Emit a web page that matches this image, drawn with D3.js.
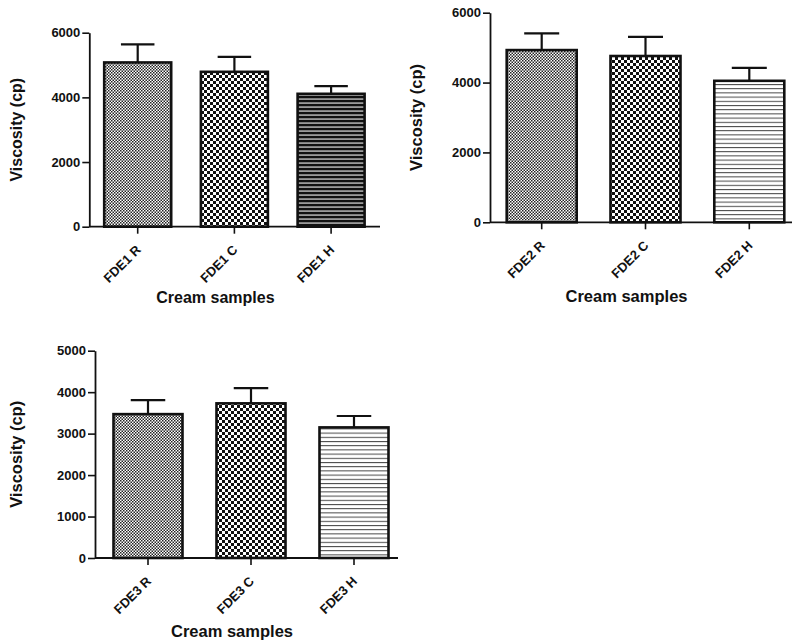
<!DOCTYPE html>
<html>
<head>
<script src="https://d3js.org/d3.v7.min.js"></script>
<style>
  body { margin: 0; background: #fff; }
  text { font-family: "Liberation Sans", Arial, sans-serif; font-weight: bold; fill: #111; }
</style>
</head>
<body>
<svg id="fig" width="793" height="642"></svg>
<script>
// data
const samplesFDE1 = ["FDE1 R", "FDE1 C", "FDE1 H"];
const viscosityFDE1 = [5080, 4790, 4110];
const errorFDE1 = [560, 465, 240];

const samplesFDE2 = ["FDE2 R", "FDE2 C", "FDE2 H"];
const viscosityFDE2 = [4930, 4760, 4050];
const errorFDE2 = [480, 550, 370];

const samplesFDE3 = ["FDE3 R", "FDE3 C", "FDE3 H"];
const viscosityFDE3 = [3470, 3730, 3150];
const errorFDE3 = [340, 365, 275];

const ticksFDE12 = [0, 2000, 4000, 6000];
const ticksFDE3 = [0, 1000, 2000, 3000, 4000, 5000];

const yTitle = "Viscosity (cp)";
const xTitle = "Cream samples";

let svg = d3.select("#fig");
let defs = svg.append("defs");

// fill patterns
let p = defs.append("pattern").attr("id", "fine").attr("patternUnits", "userSpaceOnUse")
  .attr("width", 3).attr("height", 3);
p.append("rect").attr("width", 3).attr("height", 3).attr("fill", "#fff");
p.append("rect").attr("width", 1.5).attr("height", 1.5).attr("fill", "#222");
p.append("rect").attr("x", 1.5).attr("y", 1.5).attr("width", 1.5).attr("height", 1.5).attr("fill", "#222");

p = defs.append("pattern").attr("id", "check").attr("patternUnits", "userSpaceOnUse")
  .attr("width", 6).attr("height", 6);
p.append("rect").attr("width", 6).attr("height", 6).attr("fill", "#fff");
p.append("rect").attr("width", 3).attr("height", 3).attr("fill", "#111");
p.append("rect").attr("x", 3).attr("y", 3).attr("width", 3).attr("height", 3).attr("fill", "#111");

p = defs.append("pattern").attr("id", "stripeDark").attr("patternUnits", "userSpaceOnUse")
  .attr("width", 8).attr("height", 4);
p.append("rect").attr("width", 8).attr("height", 4).attr("fill", "#9a9a9a");
p.append("rect").attr("width", 8).attr("height", 2.2).attr("fill", "#111");

p = defs.append("pattern").attr("id", "stripeLight").attr("patternUnits", "userSpaceOnUse")
  .attr("width", 8).attr("height", 4.2);
p.append("rect").attr("width", 8).attr("height", 4.2).attr("fill", "#fff");
p.append("rect").attr("width", 8).attr("height", 1).attr("fill", "#444");

const panels = [
  {names: samplesFDE1, values: viscosityFDE1, errs: errorFDE1, ticks: ticksFDE12, yMax: 6000,
   axisX: 89.3, axisEnd: 380, top: 32.7, bottom: 226.7, first: 137.7, step: 96.7, bw: 67,
   fills: ["fine", "check", "stripeDark"], yTitleX: 22, xTitleY: 302.5, fs: 16},
  {names: samplesFDE2, values: viscosityFDE2, errs: errorFDE2, ticks: ticksFDE12, yMax: 6000,
   axisX: 490, axisEnd: 792, top: 12.7, bottom: 222.3, first: 541.7, step: 103.8, bw: 70,
   fills: ["fine", "check", "stripeLight"], yTitleX: 422, xTitleY: 301.7, fs: 16.5},
  {names: samplesFDE3, values: viscosityFDE3, errs: errorFDE3, ticks: ticksFDE3, yMax: 5000,
   axisX: 95, axisEnd: 398, top: 350.7, bottom: 558, first: 148, step: 103, bw: 69,
   fills: ["fine", "check", "stripeLight"], yTitleX: 22, xTitleY: 637.3, fs: 16.5}
];

panels.forEach(cfg => {
  let g = svg.append("g");
  let n = cfg.names.length;
  let pad = 1 - cfg.bw / cfg.step;

  let x = d3.scaleBand().domain(cfg.names)
    .range([cfg.first - cfg.step / 2, cfg.first + cfg.step * (n - 0.5)])
    .paddingInner(pad).paddingOuter(pad / 2);
  let y = d3.scaleLinear().domain([0, cfg.yMax]).range([cfg.bottom, cfg.top]);

  // bars
  g.selectAll("rect.bar").data(cfg.values)
    .join("rect")
    .attr("class", "bar")
    .attr("x", (d, i) => x(cfg.names[i]))
    .attr("y", d => y(d))
    .attr("width", x.bandwidth())
    .attr("height", d => y(0) - y(d))
    .attr("fill", (d, i) => "url(#" + cfg.fills[i] + ")")
    .attr("stroke", "#111")
    .attr("stroke-width", 2.6);

  // error bars (upper only)
  let eb = g.selectAll("g.err").data(cfg.values).join("g").attr("class", "err");
  eb.append("line")
    .attr("x1", (d, i) => x(cfg.names[i]) + x.bandwidth() / 2)
    .attr("x2", (d, i) => x(cfg.names[i]) + x.bandwidth() / 2)
    .attr("y1", d => y(d))
    .attr("y2", (d, i) => y(d + cfg.errs[i]))
    .attr("stroke", "#111").attr("stroke-width", 2.2);
  eb.append("line")
    .attr("x1", (d, i) => x(cfg.names[i]) + x.bandwidth() / 4)
    .attr("x2", (d, i) => x(cfg.names[i]) + x.bandwidth() * 3 / 4)
    .attr("y1", (d, i) => y(d + cfg.errs[i]))
    .attr("y2", (d, i) => y(d + cfg.errs[i]))
    .attr("stroke", "#111").attr("stroke-width", 2.2);

  // y axis
  let ya = g.append("g").attr("transform", "translate(" + cfg.axisX + ",0)")
    .call(d3.axisLeft(y).tickValues(cfg.ticks).tickFormat(d3.format("d"))
      .tickSize(7).tickPadding(2).tickSizeOuter(0))
    .attr("font-size", 13).attr("font-family", null);
  ya.select(".domain").attr("stroke", "#111").attr("stroke-width", 1.8);
  ya.selectAll(".tick line").attr("stroke", "#111").attr("stroke-width", 1.6);
  ya.selectAll(".tick text").attr("fill", "#111");

  // x axis
  g.append("line")
    .attr("x1", cfg.axisX).attr("x2", cfg.axisEnd)
    .attr("y1", y(0)).attr("y2", y(0))
    .attr("stroke", "#111").attr("stroke-width", 1.8);
  let xa = g.append("g").attr("transform", "translate(0," + y(0) + ")")
    .call(d3.axisBottom(x).tickSize(7).tickSizeOuter(0))
    .attr("font-size", 13).attr("font-family", null);
  xa.select(".domain").remove();
  xa.selectAll(".tick line").attr("stroke", "#111").attr("stroke-width", 1.6);
  xa.selectAll(".tick text")
    .attr("fill", "#111")
    .attr("text-anchor", "end")
    .attr("x", 0).attr("y", 0).attr("dy", 0)
    .attr("transform", "translate(4,24) rotate(-45)");

  // titles
  g.append("text")
    .attr("transform", "translate(" + cfg.yTitleX + "," + (cfg.top + cfg.bottom) / 2 + ") rotate(-90)")
    .attr("text-anchor", "middle")
    .attr("font-size", cfg.fs)
    .text(yTitle);
  g.append("text")
    .attr("x", cfg.first + cfg.step * (n - 1) / 2 - 19)
    .attr("y", cfg.xTitleY)
    .attr("text-anchor", "middle")
    .attr("font-size", cfg.fs)
    .text(xTitle);
});
</script>
</body>
</html>
